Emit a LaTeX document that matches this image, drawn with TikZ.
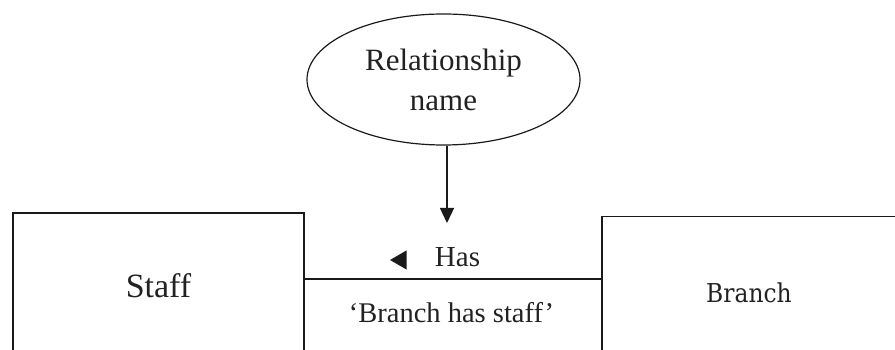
\documentclass[tikz,border=0pt]{standalone}
\usepackage{fontspec}
\setmainfont{Liberation Serif}
\newfontfamily\branchfont{DejaVu Serif}
\usetikzlibrary{shapes.geometric,arrows.meta}
\definecolor{erLine}{HTML}{1A1A1A}
\definecolor{erText}{HTML}{222222}
\tikzset{
  entity box/.style={draw=erLine, line width=1.6pt, rectangle, inner sep=0pt, text=erText},
  rel bubble/.style={draw=erLine, line width=1.2pt, ellipse, inner sep=0pt, align=center, text=erText},
  er text/.style={font=\fontsize{29}{34}\selectfont, text=erText, inner sep=0pt},
  er link/.style={draw=erLine, line width=1.6pt},
}

\begin{document}
\begin{tikzpicture}[x=1pt,y=1pt]
\clip (0,0) rectangle (895,350);

% Entities, both running off the lower edge.
\node[entity box, minimum width=291pt, minimum height=146pt,
  font=\fontsize{34}{40}\selectfont] (staff) at (158.5,64) {Staff};
\node[entity box, minimum width=294pt, minimum height=153pt,
  font=\branchfont\fontsize{26}{30}\selectfont] (branch) at (749,57)
  {\scalebox{0.9}[1]{Branch}};

% Relationship name bubble.
\node[rel bubble, minimum width=273pt, minimum height=131pt,
  font=\fontsize{31}{40}\selectfont] (relname) at (443.5,270.5)
  {Relationship\\name};

\coordinate (link) at (452,71);
\coordinate (tip) at (447,127);

\draw[er link] (staff.east |- link) -- (branch.west |- link);
\draw[draw=erLine, line width=1.3pt, -{Triangle[length=15pt,width=14pt]}]
  (relname.south -| tip) -- (tip);

% Direction marker and relationship label.
\node[regular polygon, regular polygon sides=3, shape border rotate=90,
  fill=erLine, inner sep=0pt, minimum size=22pt] (dir) at (401,90) {};
\node[er text, anchor=base] (has) at (457.5,83) {Has};
\node[er text, anchor=base, font=\fontsize{28.5}{34}\selectfont] (reads) at (451.5,27)
  {‘Branch has staff’};

\end{tikzpicture}
\end{document}
